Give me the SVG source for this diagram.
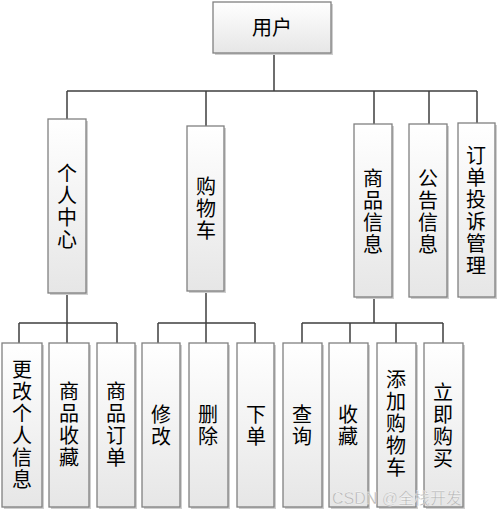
<svg xmlns="http://www.w3.org/2000/svg" width="499" height="513" viewBox="0 0 499 513">
<defs>
<linearGradient id="g" x1="0" y1="0" x2="0" y2="1">
<stop offset="0" stop-color="#ffffff"/>
<stop offset="1" stop-color="#e6e6e6"/>
</linearGradient>
<style>
.box{fill:url(#g);stroke:#808080;stroke-width:1.3}
.sh{fill:#cfcfcf}
.t{font-family:"Noto Sans CJK SC","Noto Sans",sans-serif;font-size:20px;fill:#000;text-anchor:middle}
.v{font-family:"Noto Sans CJK SC","Noto Sans",sans-serif;font-size:20px;fill:#000;text-anchor:middle;writing-mode:vertical-rl;letter-spacing:2px}
.ln{fill:none;stroke:#3f3f3f;stroke-width:1.5}
.wm{font-family:"Liberation Sans","Noto Sans CJK SC",sans-serif;font-size:16px;fill:#b4b4b4;stroke:#ffffff;stroke-width:0.3}
</style>
</defs>
<rect width="499" height="513" fill="#ffffff"/>
<g id="connectors" class="ln">
<path d="M274 53V91M67 91H477M67 91V119M206 91V126M374 91V124M429 91V124M477 91V123"/>
<path d="M67 293V323M19 323H117M19 323V343M67 323V343M117 323V343"/>
<path d="M206 291V323M158 323H255M158 323V343M206 323V343M255 323V343"/>
<path d="M374 297V323M302 323H443M302 323V343M350 323V343M396 323V343M443 323V343"/>
</g>
<g id="n_user"><rect class="sh" x="215" y="4" width="118" height="51"/><rect class="box" x="213" y="2" width="118" height="51"/><text class="t" x="272" y="35">用户</text></g>
<g id="n_center"><rect class="sh" x="50" y="121" width="38" height="174"/><rect class="box" x="48" y="119" width="38" height="174"/><text class="v" x="67" y="207">个人中心</text></g>
<g id="n_cart"><rect class="sh" x="189" y="128" width="37" height="165"/><rect class="box" x="187" y="126" width="37" height="165"/><text class="v" x="206" y="209">购物车</text></g>
<g id="n_goods"><rect class="sh" x="356" y="126" width="38" height="173"/><rect class="box" x="354" y="124" width="38" height="173"/><text class="v" x="373" y="212">商品信息</text></g>
<g id="n_notice"><rect class="sh" x="411" y="126" width="38" height="173"/><rect class="box" x="409" y="124" width="38" height="173"/><text class="v" x="428" y="212">公告信息</text></g>
<g id="n_complaint"><rect class="sh" x="460" y="125" width="37" height="174"/><rect class="box" x="458" y="123" width="37" height="174"/><text class="v" x="476" y="211">订单投诉管理</text></g>
<g id="n_edit_info"><rect class="sh" x="4" y="345" width="40" height="164"/><rect class="box" x="2" y="343" width="40" height="164"/><text class="v" x="22" y="425">更改个人信息</text></g>
<g id="n_fav_goods"><rect class="sh" x="51" y="345" width="40" height="164"/><rect class="box" x="49" y="343" width="40" height="164"/><text class="v" x="69" y="425">商品收藏</text></g>
<g id="n_orders"><rect class="sh" x="99" y="345" width="38" height="164"/><rect class="box" x="97" y="343" width="38" height="164"/><text class="v" x="116" y="425">商品订单</text></g>
<g id="n_modify"><rect class="sh" x="144" y="345" width="38" height="164"/><rect class="box" x="142" y="343" width="38" height="164"/><text class="v" x="161" y="426">修改</text></g>
<g id="n_delete"><rect class="sh" x="191" y="345" width="39" height="164"/><rect class="box" x="189" y="343" width="39" height="164"/><text class="v" x="208" y="426">删除</text></g>
<g id="n_order"><rect class="sh" x="239" y="345" width="37" height="164"/><rect class="box" x="237" y="343" width="37" height="164"/><text class="v" x="256" y="426">下单</text></g>
<g id="n_query"><rect class="sh" x="285" y="345" width="39" height="164"/><rect class="box" x="283" y="343" width="39" height="164"/><text class="v" x="302" y="426">查询</text></g>
<g id="n_fav"><rect class="sh" x="331" y="345" width="39" height="164"/><rect class="box" x="329" y="343" width="39" height="164"/><text class="v" x="348" y="426">收藏</text></g>
<g id="n_addcart"><rect class="sh" x="379" y="345" width="39" height="164"/><rect class="box" x="377" y="343" width="39" height="164"/><text class="v" x="396" y="424">添加购物车</text></g>
<g id="n_buy"><rect class="sh" x="426" y="345" width="39" height="164"/><rect class="box" x="424" y="343" width="39" height="164"/><text class="v" x="443" y="426">立即购买</text></g>
<text class="wm" x="332" y="504">CSDN @全栈开发</text>
</svg>
